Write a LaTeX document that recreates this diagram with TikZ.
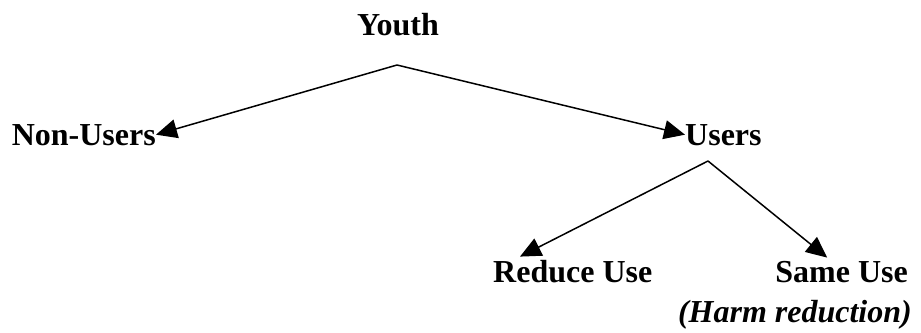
\documentclass[tikz,border=0pt]{standalone}
\usepackage{fontspec}
\setmainfont{Liberation Serif}
\usetikzlibrary{calc}
\usetikzlibrary{arrows.meta}

\begin{document}
\begin{tikzpicture}[x=1pt,y=-1pt,
  term/.style={inner sep=0pt,font=\fontsize{32}{38}\selectfont\bfseries},
  branch/.style={line width=1.5pt,-{Triangle[length=21pt,width=19pt]}}]
  % Boundary
  \path[use as bounding box] (0,0) rectangle (921,332);
  % Terms
  \node[term,anchor=base] (youth) at (398,35) {Youth};
  \node[term,anchor=base east] (nonusers) at (156,145) {Non-Users};
  \node[term,anchor=base west] (users) at (685,145) {Users};
  \node[term,anchor=base west] (reduce) at (493,282) {Reduce Use};
  \node[term,anchor=base east] (same) at (908,282) {Same Use};
  \node[term,anchor=base east,font=\fontsize{32}{38}\selectfont\bfseries\itshape] (harm) at (912,322) {(Harm reduction)};
  % Forks
  \coordinate (top) at (397,65);
  \coordinate (mid) at (708,161);
  \draw[branch] (top) -- (nonusers.east);
  \draw[branch] (top) -- (users.west);
  \draw[branch] (mid) -- ($(reduce.north west)+(27,-3)$);
  \draw[branch] (mid) -- ($(same.north west)+(52,-3)$);
\end{tikzpicture}
\end{document}
